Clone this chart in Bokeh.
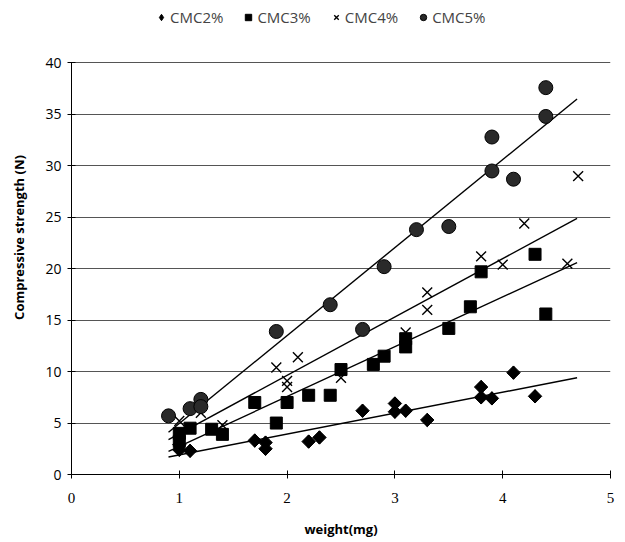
import math
from bokeh.plotting import figure
from bokeh.models import Legend, LegendItem, FixedTicker, Range1d
from bokeh.embed import file_html
from bokeh.resources import INLINE

# ---- data ----
cmc2_x = [1.0, 1.0, 1.1, 1.7, 1.8, 1.8, 2.2, 2.3, 2.7, 3.0, 3.0, 3.1, 3.3, 3.8, 3.8, 3.9, 4.1, 4.3]
cmc2_y = [2.9, 2.4, 2.3, 3.3, 3.1, 2.5, 3.2, 3.6, 6.2, 6.9, 6.1, 6.2, 5.3, 8.5, 7.5, 7.4, 9.9, 7.6]

cmc3_x = [1.0, 1.0, 1.1, 1.3, 1.4, 1.7, 1.9, 2.0, 2.2, 2.4, 2.5, 2.8, 2.9, 3.1, 3.1, 3.5, 3.7, 3.8, 4.3, 4.4]
cmc3_y = [4.0, 3.2, 4.5, 4.4, 3.9, 7.0, 5.0, 7.0, 7.7, 7.7, 10.2, 10.7, 11.5, 12.4, 13.2, 14.2, 16.3, 19.7, 21.4, 15.6]

cmc4_x = [1.0, 1.0, 1.2, 1.4, 1.9, 2.0, 2.0, 2.1, 2.5, 3.1, 3.3, 3.3, 3.8, 4.0, 4.2, 4.6, 4.7]
cmc4_y = [5.2, 3.4, 6.0, 4.8, 10.4, 9.1, 8.5, 11.4, 9.4, 13.8, 17.7, 16.0, 21.2, 20.4, 24.4, 20.5, 29.0]

cmc5_x = [0.9, 1.1, 1.2, 1.2, 1.9, 2.4, 2.7, 2.9, 3.2, 3.5, 3.9, 3.9, 4.1, 4.4, 4.4]
cmc5_y = [5.7, 6.4, 7.3, 6.6, 13.9, 16.5, 14.1, 20.2, 23.8, 24.1, 32.8, 29.5, 28.7, 37.6, 34.8]

# trendline end points
trend_x = [0.9, 4.69]
trend2_y = [1.7, 9.4]
trend3_y = [2.25, 20.6]
trend4_y = [3.4, 24.9]
trend5_y = [4.1, 36.5]

series_labels = ["CMC2%", "CMC3%", "CMC4%", "CMC5%"]
x_ticks = [0, 1, 2, 3, 4, 5]
y_ticks = [0, 5, 10, 15, 20, 25, 30, 35, 40]

# frame extends above 40 so the legend can sit inside it; axis is bounded to 0..40
p = figure(width=617, height=540, output_backend="svg", toolbar_location=None,
           x_range=Range1d(0, 5), y_range=Range1d(0, 46.07),
           min_border_left=71, min_border_right=7, min_border_top=0, min_border_bottom=62)
p.outline_line_color = None
p.background_fill_color = "white"

# grid
p.xgrid.visible = False
p.ygrid.ticker = FixedTicker(ticks=y_ticks)
p.ygrid.grid_line_color = "#555555"
p.ygrid.grid_line_width = 1

# trendlines
for ty in (trend2_y, trend3_y, trend4_y, trend5_y):
    p.line(trend_x, ty, line_color="black", line_width=1.4)

# markers (the narrow diamond only serves as the legend key; the rotated square covers it)
r2_key = p.scatter(cmc2_x, cmc2_y, marker="diamond", size=13, fill_color="black", line_color="black")
r2 = p.scatter(cmc2_x, cmc2_y, marker="square", angle=math.pi / 4, size=9.5,
               fill_color="black", line_color="black")
r3 = p.scatter(cmc3_x, cmc3_y, marker="square", size=12, fill_color="black", line_color="black")
r4 = p.scatter(cmc4_x, cmc4_y, marker="x", size=14, line_color="black", line_width=1.4)
r5 = p.scatter(cmc5_x, cmc5_y, marker="circle", size=14, fill_color="#2a2a2a", line_color="black")

legend = Legend(items=[LegendItem(label=series_labels[0], renderers=[r2_key]),
                       LegendItem(label=series_labels[1], renderers=[r3]),
                       LegendItem(label=series_labels[2], renderers=[r4]),
                       LegendItem(label=series_labels[3], renderers=[r5])],
                orientation="horizontal", location=(82, 447),
                padding=0, margin=0, spacing=17, glyph_width=16, glyph_height=16,
                label_standoff=1, label_text_font="Open Sans", label_text_font_size="15px",
                border_line_color=None, background_fill_alpha=0)
p.add_layout(legend, "center")

# axes
for ax in (p.xaxis[0], p.yaxis[0]):
    ax.axis_line_color = "black"
    ax.major_tick_line_color = "black"
    ax.minor_tick_line_color = None
    ax.major_tick_in = 4
    ax.major_tick_out = 4
    ax.axis_label_text_font = "Open Sans"
    ax.axis_label_text_font_style = "bold"
    ax.axis_label_text_font_size = "13px"
    ax.axis_label_text_color = "black"
    ax.major_label_text_color = "black"

p.yaxis.bounds = (0, 40)
p.xaxis.ticker = FixedTicker(ticks=x_ticks)
p.yaxis.ticker = FixedTicker(ticks=y_ticks)
p.xaxis.axis_label = "weight(mg)"
p.yaxis.axis_label = "Compressive strength (N)"
p.xaxis.major_label_text_font = "Liberation Sans Narrow"
p.xaxis.major_label_text_font_size = "15px"
p.yaxis.major_label_text_font = "Open Sans"
p.yaxis.major_label_text_font_size = "14px"
p.xaxis.major_label_standoff = 14
p.yaxis.major_label_standoff = 6
p.xaxis.axis_label_standoff = 14
p.yaxis.axis_label_standoff = 14

open("out.html", "w").write(file_html(p, INLINE))
